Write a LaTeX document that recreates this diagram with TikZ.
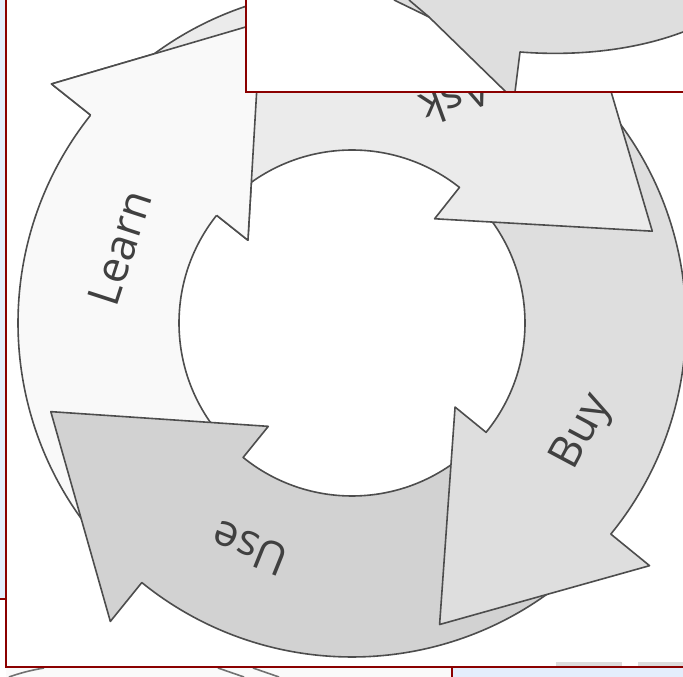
\documentclass[tikz,border=0pt]{standalone}
\usepackage{fontspec}
\setmainfont{Open Sans}
\definecolor{edgegray}{HTML}{4D4D4D}
\definecolor{labelgray}{HTML}{404040}
\definecolor{learnfill}{HTML}{F9F9F9}
\definecolor{askfill}{HTML}{EBEBEB}
\definecolor{buyfill}{HTML}{DEDEDE}
\definecolor{usefill}{HTML}{D2D2D2}
\definecolor{framered}{HTML}{8B0000}
\definecolor{paneblue}{HTML}{E4EEFC}
\definecolor{tabgray}{HTML}{DCDCDC}
% one curved arrow of the cycle: #1 tail angle, #2 head base angle, #3 fill
\newcommand{\ringarrow}[3]{%
  \path[outline, fill=#3] (#1:334pt) arc[start angle=#1, end angle=#2, radius=334pt]
    -- (#2:384pt) -- ({#2-34.6}:314pt) -- (#2:133pt) -- (#2:173pt)
    arc[start angle=#2, end angle=#1, radius=173pt] -- cycle;}
\begin{document}
\begin{tikzpicture}[x=1pt,y=1pt,
  outline/.style={draw=edgegray, line width=1.6pt, line join=round},
  steplabel/.style={text=labelgray, font=\fontsize{44}{50}\selectfont, inner sep=0pt},
  frameline/.style={draw=framered, line width=2pt},
]
\useasboundingbox (0,0) rectangle (683,677);
\fill[white] (0,0) rectangle (683,677);

% side and bottom panes
\fill[paneblue] (0,79) rectangle (5,677);
\draw[frameline] (0,78) -- (5,78);
\fill[paneblue] (452,0) rectangle (683,9);
\fill[black!2] (6,0) rectangle (452,9);
\draw[edgegray!80, line width=1.6pt] (9,0) .. controls (20,4) and (32,7) .. (44,9);
\draw[edgegray!80, line width=1.6pt] (218,9) -- (244,0);
\draw[edgegray!80, line width=1.6pt] (253,9) -- (279,0);
\fill[tabgray] (556,10) rectangle (622,15);
\fill[tabgray] (638,10) rectangle (683,15);

% the cycle
\begin{scope}[shift={(352,354)}]
  \ringarrow{221}{141.5}{learnfill}
  \ringarrow{-49.2}{-129}{usefill}
  \ringarrow{41.6}{-39.2}{buyfill}
  \ringarrow{131.5}{51.6}{askfill}
  % Learn head lies over the tail of Ask
  \fill[learnfill] (141.5:334pt) -- (141.5:384pt) -- (106.9:314pt) -- (141.5:133pt) -- (141.5:173pt) -- cycle;
  \draw[outline] (141.5:334pt) -- (141.5:384pt) -- (106.9:314pt) -- (141.5:133pt) -- (141.5:173pt);

  \node[steplabel, rotate=72] (learn) at (-232,75) {Learn};
  \node[steplabel, rotate=200] (ask) at (104,223) {Ask};
  \node[steplabel, rotate=62] (buy) at (231,-109) {Buy};
  \node[steplabel, rotate=158] (use) at (-102,-225) {Use};
\end{scope}

% inset pane at the top
\fill[white] (246,585) rectangle (683,677);
\begin{scope}
  \clip (246,585) rectangle (683,677);
  \fill[buyfill] (394,677) -- (429,660) -- (506,585) -- (515,585) -- (520,625)
    .. controls (570,621) and (630,625) .. (683,645) -- (683,677) -- cycle;
  \draw[outline] (394,677) -- (429,660) -- (506,585);
  \draw[outline] (409,677) -- (429,660);
  \draw[outline] (515,585) -- (520,625) .. controls (570,621) and (630,625) .. (683,645);
\end{scope}
\draw[frameline] (246,680) -- (246,585) -- (686,585);

% main pane border
\draw[frameline] (6,680) -- (6,9.5) -- (686,9.5);
\draw[frameline] (452,9.5) -- (452,-3);
\end{tikzpicture}
\end{document}
